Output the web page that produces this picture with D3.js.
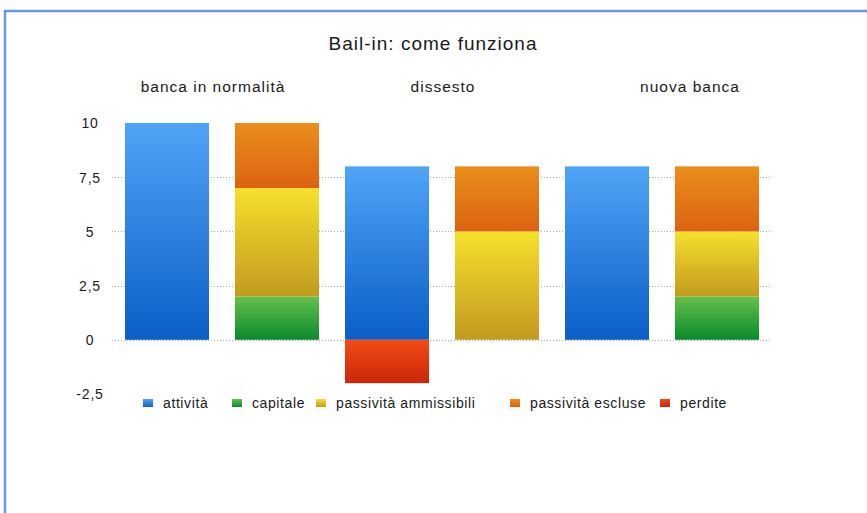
<!DOCTYPE html>
<html>
<head>
<meta charset="utf-8">
<script src="https://cdn.jsdelivr.net/npm/d3@7"></script>
<style>
  body { margin: 0; background: #fff; }
  svg text { font-family: "Liberation Sans", Arial, Helvetica, sans-serif; fill: #1a1a1a; }
</style>
</head>
<body>
<script>
// chart values
var title = "Bail-in: come funziona";
var bars = ["b1", "b2", "b3", "b4", "b5", "b6"];
var groups = ["banca in normalità", "dissesto", "nuova banca"];
var series = ["attività", "capitale", "passività ammissibili", "passività escluse", "perdite"];
var attivita = [10, 0, 8, 0, 8, 0];
var capitale = [0, 2, 0, 0, 0, 2];
var passAmmissibili = [0, 5, 0, 5, 0, 3];
var passEscluse = [0, 3, 0, 3, 0, 3];
var perdite = [0, 0, -2, 0, 0, 0];
var yTicks = [-2.5, 0, 2.5, 5, 7.5, 10];

var values = [attivita, capitale, passAmmissibili, passEscluse, perdite];

// colours: top / bottom of each gradient
var grad = [
  ["#50a4f6", "#0b5ec6"],
  ["#66c04c", "#0a8a2c"],
  ["#f6e02c", "#c29a20"],
  ["#ea8e1c", "#dc6212"],
  ["#f24c16", "#ca260a"]
];

var w = 867, h = 513;

var svg = d3.select("body").append("svg")
  .attr("width", w)
  .attr("height", h);

// frame
svg.append("rect")
  .attr("x", 5).attr("y", 11)
  .attr("width", w + 10).attr("height", h + 10)
  .attr("fill", "none")
  .attr("stroke", "#6a98d6")
  .attr("stroke-width", 2.5);

var defs = svg.append("defs");
grad.forEach(function(g, i) {
  var lg = defs.append("linearGradient")
    .attr("id", "g" + i)
    .attr("x1", 0).attr("y1", 0).attr("x2", 0).attr("y2", 1);
  lg.append("stop").attr("offset", "0%").attr("stop-color", g[0]);
  lg.append("stop").attr("offset", "100%").attr("stop-color", g[1]);
});

var x = d3.scaleBand()
  .domain(bars)
  .range([112, 772])
  .paddingInner(0.236)
  .paddingOuter(0.118);

var y = d3.scaleLinear()
  .domain([-2.5, 10])
  .range([394, 123]);

// gridlines (dotted)
svg.append("g").selectAll("line")
  .data(yTicks.filter(function(d) { return d >= 0 && d < 10; }))
  .enter().append("line")
  .attr("x1", 112).attr("x2", 772)
  .attr("y1", function(d) { return Math.round(y(d)) + 0.5; })
  .attr("y2", function(d) { return Math.round(y(d)) + 0.5; })
  .attr("stroke", "#aaa")
  .attr("stroke-width", 1)
  .attr("stroke-dasharray", "1,2");

// y axis labels, centred in a column left of the plot
var yAxis = d3.axisLeft(y)
  .tickValues(yTicks)
  .tickSize(0)
  .tickPadding(0)
  .tickFormat(function(d) { return String(d).replace(".", ","); });

var ga = svg.append("g")
  .attr("transform", "translate(90,0)")
  .call(yAxis);
ga.select(".domain").remove();
ga.selectAll("text")
  .attr("text-anchor", "middle")
  .attr("font-size", 14)
  .attr("letter-spacing", 0.8)
  .attr("fill", "#333")
  .attr("dy", "0.35em");

// stacked segments
var segs = [];
bars.forEach(function(b, bi) {
  var pos = 0, neg = 0;
  values.forEach(function(arr, si) {
    var v = arr[bi];
    if (!v) return;
    if (v > 0) { segs.push({bar: b, s: si, y0: pos, y1: pos + v}); pos += v; }
    else { segs.push({bar: b, s: si, y0: neg + v, y1: neg}); neg += v; }
  });
});

svg.append("g").selectAll("rect")
  .data(segs)
  .enter().append("rect")
  .attr("x", function(d) { return x(d.bar); })
  .attr("width", x.bandwidth())
  .attr("y", function(d) { return y(d.y1); })
  .attr("height", function(d) { return y(d.y0) - y(d.y1); })
  .attr("fill", function(d) { return "url(#g" + d.s + ")"; });

// title
svg.append("text")
  .attr("x", 433).attr("y", 50)
  .attr("text-anchor", "middle")
  .attr("font-size", 19)
  .attr("letter-spacing", 1)
  .text(title);

// group labels
var groupX = [213, 443, 690];
svg.append("g").selectAll("text")
  .data(groups)
  .enter().append("text")
  .attr("x", function(d, i) { return groupX[i]; })
  .attr("y", 92)
  .attr("text-anchor", "middle")
  .attr("font-size", 15.5)
  .attr("letter-spacing", 1)
  .text(function(d) { return d; });

// legend
var legX = [143, 232, 316, 510, 660];
var leg = svg.append("g").selectAll("g")
  .data(series)
  .enter().append("g")
  .attr("transform", function(d, i) { return "translate(" + legX[i] + ",399)"; });

leg.append("rect")
  .attr("width", 10).attr("height", 8)
  .attr("fill", function(d, i) { return "url(#g" + i + ")"; });

leg.append("text")
  .attr("x", 20).attr("y", 9)
  .attr("font-size", 14)
  .attr("letter-spacing", 0.6)
  .attr("fill", "#333")
  .text(function(d) { return d; });
</script>
</body>
</html>
